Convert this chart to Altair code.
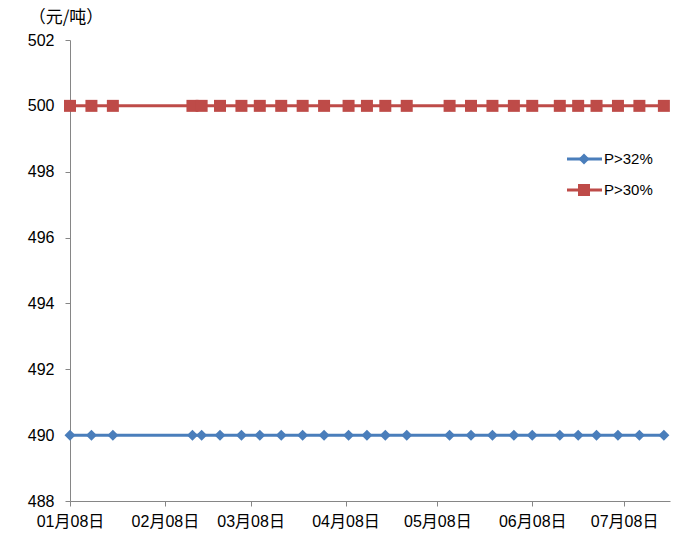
import altair as alt
import pandas as pd

# ---- data ----
dates = ["2018-01-08", "2018-01-15", "2018-01-22", "2018-02-17", "2018-02-20", "2018-02-26",
         "2018-03-05", "2018-03-11", "2018-03-18", "2018-03-25", "2018-04-01", "2018-04-09",
         "2018-04-15", "2018-04-21", "2018-04-28", "2018-05-12", "2018-05-19", "2018-05-26",
         "2018-06-02", "2018-06-08", "2018-06-17", "2018-06-23", "2018-06-29", "2018-07-06",
         "2018-07-13", "2018-07-21"]
p32 = [490, 490, 490, 490, 490, 490, 490, 490, 490, 490, 490, 490, 490,
       490, 490, 490, 490, 490, 490, 490, 490, 490, 490, 490, 490, 490]
p30 = [500, 500, 500, 500, 500, 500, 500, 500, 500, 500, 500, 500, 500,
       500, 500, 500, 500, 500, 500, 500, 500, 500, 500, 500, 500, 500]
series = ["P>32%", "P>30%"]
colors = ["#4A7EBB", "#BE4B48"]
shapes = ["diamond", "square"]
sizes = [121, 144]
y_ticks = [488, 490, 492, 494, 496, 498, 500, 502]
tick_months = [1, 2, 3, 4, 5, 6, 7]
unit_label = ["（元/吨）"]

rows = []
for d, v in zip(dates, p32):
    rows.append({"date": pd.Timestamp(d), "value": v, "series": series[0]})
for d, v in zip(dates, p30):
    rows.append({"date": pd.Timestamp(d), "value": v, "series": series[1]})
df = pd.DataFrame(rows)
leg_df = pd.DataFrame({"series": series})
unit_df = pd.DataFrame({"label": unit_label})

FONT = "Liberation Sans, Noto Sans CJK SC"

color_enc = alt.Color("series:N", scale=alt.Scale(domain=series, range=colors), legend=None)
shape_enc = alt.Shape("series:N", scale=alt.Scale(domain=series, range=shapes), legend=None)
size_enc = alt.Size("series:N", scale=alt.Scale(domain=series, range=sizes), legend=None)

base = alt.Chart(df).encode(
    x=alt.X("date:T",
            scale=alt.Scale(domain=[alt.DateTime(year=2018, month=1, date=8),
                                    alt.DateTime(year=2018, month=7, date=23)]),
            axis=alt.Axis(values=[alt.DateTime(year=2018, month=m, date=8) for m in tick_months],
                          format="%m月%d日", title=None, grid=False, labelFlush=False,
                          labelOverlap=False, tickSize=5, labelPadding=7)),
    y=alt.Y("value:Q",
            scale=alt.Scale(domain=[488, 502], nice=False, zero=False),
            axis=alt.Axis(values=y_ticks, title=None, grid=False,
                          tickSize=5, labelPadding=11)),
    color=color_enc,
)
line = base.mark_line(strokeWidth=3)
pts = base.mark_point(filled=True, opacity=1).encode(shape=shape_enc, size=size_enc)
main = alt.layer(line, pts)

leg_y = alt.Y("series:N", scale=alt.Scale(type="point", domain=series, range=[119, 150], padding=0),
              axis=None)
leg_base = alt.Chart(leg_df).encode(y=leg_y, color=color_enc)
leg_rule = leg_base.mark_rule(strokeWidth=3).encode(x=alt.value(497), x2=alt.value(532))
leg_pt = leg_base.mark_point(filled=True, opacity=1).encode(x=alt.value(514), shape=shape_enc, size=size_enc)
leg_text = alt.Chart(leg_df).mark_text(align="left", baseline="middle", fontSize=15, font=FONT,
                                        color="black").encode(
    x=alt.value(534), y=leg_y, text="series:N")
unit_text = alt.Chart(unit_df).mark_text(align="center", baseline="middle", fontSize=17,
                                         font="Noto Sans CJK SC", color="black").encode(
    x=alt.value(-4), y=alt.value(-22), text="label:N")
legend = alt.layer(leg_rule, leg_pt, leg_text)

chart = alt.layer(main, legend, unit_text).resolve_scale(y="independent").properties(
    width=600, height=461,
    autosize=alt.AutoSizeParams(type="none"),
    padding={"left": 62, "top": 32, "right": 12, "bottom": 38},
).configure_view(stroke=None).configure_axis(
    domainColor="#868686", tickColor="#868686", labelColor="black",
    labelFont=FONT, labelFontSize=16,
)

chart.save("out.html", embed_options={"renderer": "svg", "actions": False})
